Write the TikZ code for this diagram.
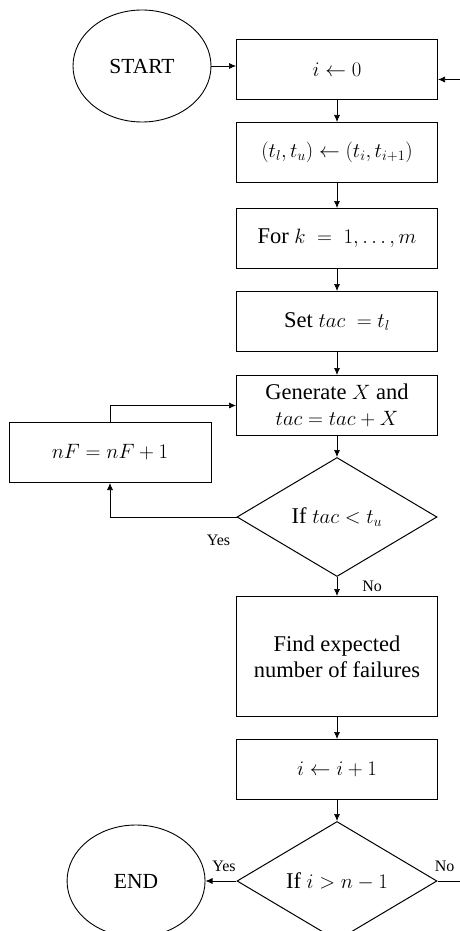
\documentclass[tikz,border=0pt]{standalone}
\usepackage{fontspec}
\setmainfont{Liberation Serif}
\usepackage{amsmath}
\usetikzlibrary{positioning,shapes.geometric,arrows.meta}
\tikzset{
  proc/.style={rectangle,draw,line width=1pt,minimum width=201pt,minimum height=60pt,inner sep=2pt,align=center,font=\fontsize{22.5}{26}\selectfont},
  term/.style={ellipse,draw,line width=0.9pt,minimum width=138pt,minimum height=112pt,inner sep=0pt,font=\fontsize{21.5}{25}\selectfont},
  dec/.style={diamond,draw,line width=1pt,minimum width=200pt,minimum height=119pt,aspect=1.7,inner sep=0pt,font=\fontsize{22.5}{26}\selectfont},
  edge/.style={-{Latex[length=7pt,width=6pt]},line width=0.7pt},
  lbl/.style={inner sep=1pt,font=\fontsize{16}{19}\selectfont}
}
\begin{document}
\begin{tikzpicture}[x=1pt,y=1pt,node distance=22pt]
\useasboundingbox (0,0) rectangle (460,-931);
\clip (0,0) rectangle (460,-931);
\node[term] (start) at (142,-66) {START};
\node[proc] (init) at (337,-69.5) {$i \leftarrow 0$};
\node[proc,below=of init] (bnds) {$(t_l,t_u) \leftarrow (t_i,t_{i+1})$};
\node[proc,below=25pt of bnds] (loopk) {For $k\;=\;1,\ldots,m$};
\node[proc,below=of loopk] (settac) {Set $tac\;=t_l$};
\node[proc,below=23pt of settac] (gen) {Generate $X$ and\\$tac=tac+X$};
\node[dec,below=21pt of gen] (chk) {If $tac<t_u$};
\node[proc,minimum height=120pt,below=19pt of chk] (find) {Find expected\\number of failures};
\node[proc,below=of find] (inc) {$i \leftarrow i+1$};
\node[dec,below=21pt of inc] (chkn) {If $i>n-1$};
\node[term,left=31pt of chkn] (fin) {END};
\node[proc,minimum width=202pt] (nf) at (110,-452.5) {$nF=nF+1$};
\coordinate (ret) at ([yshift=-10pt]init.east);
\coordinate (rx) at (470,0);
% main column
\draw[edge] (start) -- (start -| init.west);
\draw[edge] (init) -- (bnds);
\draw[edge] (bnds) -- (loopk);
\draw[edge] (loopk) -- (settac);
\draw[edge] (settac) -- (gen);
\draw[edge] (gen) -- (chk);
\draw[edge] (chk) -- node[lbl,anchor=west,xshift=24pt]{No} (find);
\draw[edge] (find) -- (inc);
\draw[edge] (inc) -- (chkn);
% failure counter loop
\draw[edge] (chk.west) -| node[lbl,pos=0,anchor=north east,xshift=-5pt,yshift=-17pt]{Yes} (nf.south);
\draw[edge] (nf.north) |- (gen.west);
% outer loop
\draw[edge] (chkn) -- node[lbl,above,yshift=8pt,xshift=3pt]{Yes} (fin);
\draw[edge] (chkn.east) -- node[lbl,pos=0,anchor=south west,xshift=-4pt,yshift=8pt]{No} (chkn.east -| rx) -- (ret -| rx) -- (ret);
\end{tikzpicture}
\end{document}
